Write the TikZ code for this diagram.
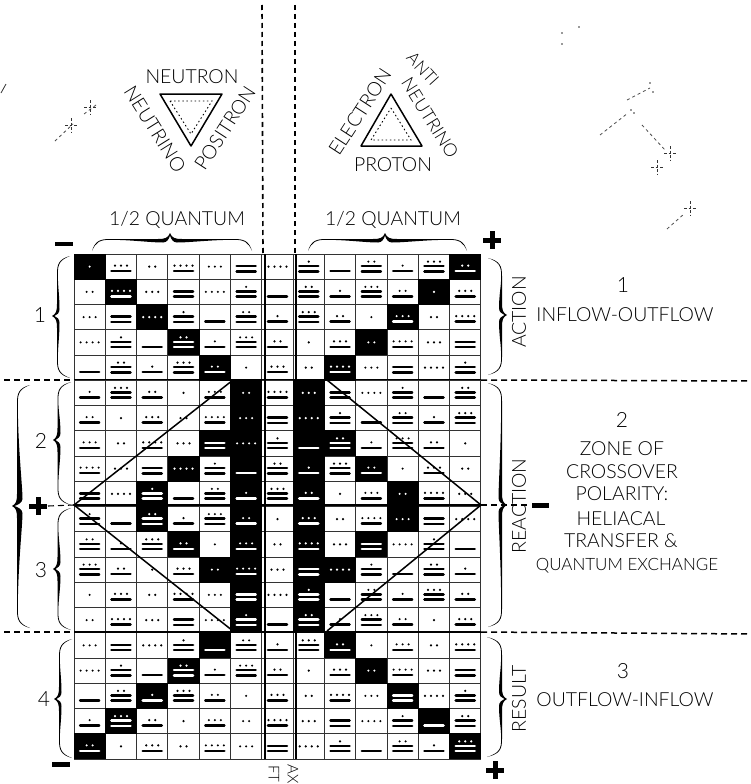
\documentclass[tikz,border=0pt]{standalone}
\usepackage{fontspec}
\setmainfont{Lato}[UprightFont=* Light]
\makeatletter
\newcommand{\FS}[1]{\fontsize{#1}{#1}\selectfont}
% one calligraphic brace: tip at (#1,#2), depth #4 to the body, #5 to the free ends, half lengths #6 #7, width #8
\newcommand{\callibrace}[8]{%
 \begin{scope}[shift={(#1,#2)},#3]
 \fill[black] (0,0)
  .. controls (#4-1,-2) and (#4,-5) .. (#4,-12)
  -- (#4,{-#6+18})
  .. controls (#4,{-#6+8}) and ({#4+2},{-#6+3}) .. (#5,-#6)
  .. controls ({#4+2.8},{-#6+4}) and ({#4+.8},{-#6+8}) .. ({#4+.8},{-#6+18})
  .. controls ({#4+.8},{-#6*.5}) and ({#4+#8},-20) .. ({#4+#8},-7)
  .. controls ({#4+#8},-3) and (#4,-1) .. (2.5,0)
  .. controls (#4,1) and ({#4+#8},3) .. ({#4+#8},7)
  .. controls ({#4+#8},20) and ({#4+.8},{#7*.5}) .. ({#4+.8},{#7-18})
  .. controls ({#4+.8},{#7-8}) and ({#4+2.8},{#7-4}) .. (#5,#7)
  .. controls ({#4+2},{#7-3}) and (#4,{#7-8}) .. (#4,{#7-18})
  -- (#4,12)
  .. controls (#4,5) and (#4-1,2) .. (0,0) -- cycle;
 \end{scope}}
% a tone glyph: dots over bars
\newcommand{\toneglyph}[4]{%
 \pgfmathtruncatemacro\tbars{int((#3)/5)}%
 \pgfmathtruncatemacro\tdots{mod(#3,5)}%
 \ifnum\tbars=0 \def\dy{0}\fi
 \ifnum\tbars=1 \ifnum\tdots=0 \def\dy{0}\else\def\dy{-1}\fi\fi
 \ifnum\tbars=2 \ifnum\tdots=0 \def\dy{-1}\else\def\dy{-5}\fi\fi
 \ifnum\tdots>0
  \foreach \k in {1,...,\tdots}{%
   \fill[#4] ({#1+(\k-(\tdots+1)/2)*6},{#2+\dy}) circle (1.2);}
 \fi
 \ifnum\tbars=1 \draw[tonebar,#4] ({#1-9.5},{#2+4.5}) -- ({#1+9.5},{#2+4.5});\fi
 \ifnum\tbars=2
  \draw[tonebar,#4] ({#1-9.5},{#2-0.5}) -- ({#1+9.5},{#2-0.5});
  \draw[tonebar,#4] ({#1-9.5},{#2+4.7}) -- ({#1+9.5},{#2+4.7});
 \fi}
\makeatother
\tikzset{
 tonebar/.style={line width=2.6pt,line cap=round},
 gridline/.style={draw=black!80,line width=.9pt},
 heavy/.style={draw=black,line width=1.8pt},
 axisdash/.style={draw=black,line width=1.6pt,dash pattern=on 5pt off 4pt},
 zone/.style={draw=black,line width=1.5pt,dash pattern=on 6pt off 4pt},
 crossline/.style={draw=black,line width=1.5pt},
 tri/.style={draw=black,line width=1.5pt,line join=round},
 tridot/.style={draw=black,line width=.9pt,dash pattern=on 1.5pt off 2.6pt},
 lab/.style={inner sep=0pt,font=\FS{19.4},text=black},
 labr/.style={inner sep=0pt,font=\FS{18},text=black},
 labs/.style={inner sep=0pt,font=\FS{17},text=black},
 labx/.style={inner sep=0pt,font=\FS{15},text=black},
 num/.style={inner sep=0pt,font=\FS{21},text=black},
 star/.style={draw=black!70,line width=.8pt,dash pattern=on 3pt off 3pt},
 sign/.style={fill=black},
}
\begin{document}
\begin{tikzpicture}[x=1pt,y=-1pt]
\useasboundingbox (0,0) rectangle (750,784);
\fill[white] (0,0) rectangle (750,784);
% grid
\foreach \i in {0,...,13}{\draw[gridline] ({74+\i*31.3},254) -- ({74+\i*31.3},759);}
\foreach \j in {0,...,20}{\draw[gridline] (74,{254+\j*25.25}) -- (481,{254+\j*25.25});}
% portals
\foreach \c/\r in {1/1,13/1,2/2,12/2,3/3,11/3,4/4,10/4,5/5,9/5,6/6,8/6,6/7,8/7,
 5/8,6/8,8/8,9/8,4/9,6/9,8/9,10/9,3/10,6/10,8/10,11/10,3/11,6/11,8/11,11/11,
 4/12,6/12,8/12,10/12,5/13,6/13,8/13,9/13,6/14,8/14,6/15,8/15,
 5/16,9/16,4/17,10/17,3/18,11/18,2/19,12/19,1/20,13/20}{%
 \expandafter\gdef\csname portal\c-\r\endcsname{}%
 \fill[black] ({74+(\c-1)*31.3-.3},{254+(\r-1)*25.25-.3}) rectangle ++(31.9,25.85);
}
% tones
\foreach \c in {1,...,13}{\foreach \r in {1,...,20}{%
 \pgfmathtruncatemacro\tn{mod(20*(\c-1)+\r-1,13)+1}%
 \pgfmathsetmacro\cx{74+(\c-.5)*31.3}%
 \pgfmathsetmacro\cy{254+(\r-.5)*25.25}%
 \ifcsname portal\c-\r\endcsname
  \toneglyph{\cx}{\cy}{\tn}{white}%
 \else
  \toneglyph{\cx}{\cy}{\tn}{black}%
 \fi}}
% heavy rules
\draw[heavy] (74,379.5) -- (481,379.5);
\draw[heavy] (74,632) -- (481,632);
\draw[heavy,line width=1.2pt] (74,505) -- (481,505);
\draw[heavy] (265,254) -- (265,759);
\draw[heavy] (296,254) -- (296,759);
% crossover lines
\coordinate (lt) at (233,380); \coordinate (lm) at (74,505); \coordinate (lb) at (233,631);
\coordinate (rt) at (327,380); \coordinate (rm) at (481,505); \coordinate (rb) at (327,631);
\draw[crossline] (lt) -- (lm) -- (lb);
\draw[crossline] (rt) -- (rm) -- (rb);
% axis dashes
\coordinate (al) at (262,5); \coordinate (ale) at (263,254);
\coordinate (ar) at (295,5); \coordinate (are) at (295,254);
\draw[axisdash] (al) -- (ale);
\draw[axisdash] (ar) -- (are);
% zone dashes
\coordinate (z1a) at (4,380); \coordinate (z1b) at (74,380); \coordinate (z1c) at (481,380); \coordinate (z1d) at (750,381);
\coordinate (z2a) at (4,632); \coordinate (z2b) at (74,632); \coordinate (z2c) at (481,632); \coordinate (z2d) at (750,634);
\draw[zone] (z1a) -- (z1b);
\draw[zone] (z1c) -- (z1d);
\draw[zone] (z2a) -- (z2b);
\draw[zone] (z2c) -- (z2d);
\coordinate (m1) at (48,506); \coordinate (m2) at (530,505);
\draw[zone,line width=1.1pt] (m1) -- (lm);
\draw[zone] (rm) -- (m2);
% signs
\fill[sign] (55,241.5) rectangle (73,246);
\fill[sign] (52,762) rectangle (70,767);
\fill[sign] (532,502.5) rectangle (549,507.5);
\fill[sign] (483,237.5) rectangle (501,242.5); \fill[sign] (489.5,231) rectangle (494.5,249);
\fill[sign] (486,767.5) rectangle (504,772.5); \fill[sign] (492.5,761) rectangle (497.5,779);
\fill[sign] (29,503.5) rectangle (47,508.5); \fill[sign] (35.5,497) rectangle (40.5,515);
% braces on the left
\callibrace{52}{316}{}{5}{18}{60}{62}{2.5}
\callibrace{53}{440}{}{4.5}{18}{58}{65}{3}
\callibrace{53}{569}{}{4.5}{18}{61}{61}{3}
\callibrace{54}{699}{}{5}{18}{60}{59}{2.5}
\callibrace{12}{506}{}{5}{18}{121}{122}{5.5}
% braces on the right
\callibrace{507}{315}{xscale=-1}{5}{19}{57}{60}{3}
\callibrace{507}{505}{xscale=-1}{5}{19}{122}{122}{3.5}
\callibrace{507}{699}{xscale=-1}{5}{20}{62}{58}{3}
% braces on the top
\callibrace{170}{233}{rotate=-90}{6}{18}{82}{78}{3.5}
\callibrace{385}{233}{rotate=-90}{6}{18}{82}{77}{3.5}
% triangles
\draw[tri] (160,94) -- (222,94) -- (191,146) -- cycle;
\draw[tridot] (170,101) -- (212,101) -- (191,134) -- cycle;
\draw[tri] (391,94) -- (422,146) -- (361,146) -- cycle;
\draw[tridot] (391,108) -- (411,140) -- (371,140) -- cycle;
% stars
\draw[star] (55,141) -- (73,124);
\draw[star] (84,114) -- (96,105);
\draw[black!80,line width=.8pt] (1,93) -- (6,84);
\foreach \sx/\sy in {71/125,90/107,670/153,657/167,690/208}{%
 \draw[black!80,line width=.8pt,dash pattern=on 2.5pt off 2pt] (\sx-6,\sy) -- (\sx+6,\sy);
 \draw[black!80,line width=.8pt,dash pattern=on 2.5pt off 2pt] (\sx,\sy-7) -- (\sx,\sy+7);
}
\draw[star] (600,135) -- (628,113);
\draw[star] (627,100) -- (650,88);
\draw[star] (642,125) -- (665,150);
\draw[star] (667,229) -- (684,214);
\foreach \sx/\sy in {562/33,562/44,579/27,650/83,653/92,631/110,634/113}{\fill[black!80] (\sx,\sy) circle (.8);}
% triangle labels
\node[lab] (neutron) at (192,77) {NEUTRON};
\node[lab,rotate=-58] (neutrino) at (155,129) {NEUTRINO};
\node[lab,rotate=57] (positron) at (225,128) {POSITRON};
\node[lab,rotate=57] (electron) at (360,112) {ELECTRON};
\node[labs,rotate=-48] (anti) at (423,69) {ANTI};
\node[labr,rotate=-58] (neutrinob) at (430,118) {NEUTRINO};
\node[lab] (proton) at (393,165) {PROTON};
\node[lab] (qa) at (177,220) {1/2 QUANTUM};
\node[lab] (qb) at (393,220) {1/2 QUANTUM};
% row numbers
\node[num] (n1) at (40,315) {1};
\node[num] (n2) at (41,441) {2};
\node[num] (n3) at (41,570) {3};
\node[num] (n4) at (44,699) {4};
% right column
\node[lab,rotate=90] (action) at (519,312) {ACTION};
\node[lab,rotate=90] (reaction) at (519,506) {REACTION};
\node[lab,rotate=90] (result) at (519,699) {RESULT};
\node[num] (r1) at (623,285) {1};
\node[lab] (r1t) at (625,315) {INFLOW-OUTFLOW};
\node[num] (r2) at (622,420) {2};
\node[lab] (z1) at (622,449) {ZONE OF};
\node[lab] (z2) at (622,472) {CROSSOVER};
\node[lab] (z3) at (622,494) {POLARITY:};
\node[lab] (z4) at (621,519) {HELIACAL};
\node[lab] (z5) at (621,541) {TRANSFER \&};
\node[labs] (z6) at (627,566) {QUANTUM EXCHANGE};
\node[num] (r3) at (623,671) {3};
\node[lab] (r3t) at (625,700) {OUTFLOW-INFLOW};
% axis label at the foot
\node[labx,rotate=-90,anchor=west] (ax1) at (274,765) {FT};
\node[labx,rotate=-90,anchor=west] (ax2) at (293,764) {AX};
\end{tikzpicture}
\end{document}
